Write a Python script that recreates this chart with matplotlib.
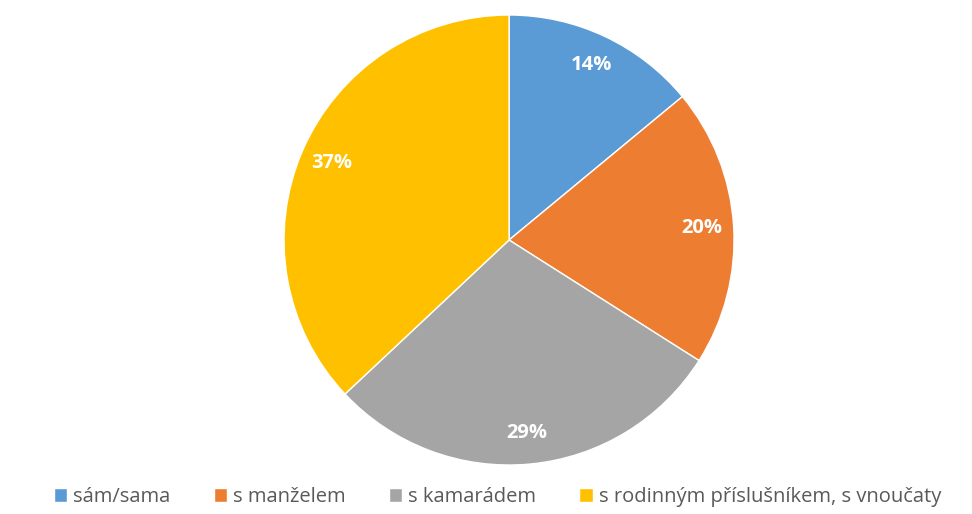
import matplotlib.pyplot as plt

labels = ['sám/sama', 's manželem', 's kamarádem', 's rodinným příslušníkem, s vnoučaty']
values = [14, 20, 29, 37]
colors = ['#5B9BD5', '#ED7D31', '#A5A5A5', '#FFC000']

plt.rcParams['font.family'] = ['Open Sans', 'DejaVu Sans']

fig = plt.figure(figsize=(9.72, 5.14), dpi=100)
ax = fig.add_axes([0.2922, 0.0953, 0.463, 0.8755])

wedges, texts, autotexts = ax.pie(
    values, colors=colors, startangle=90, counterclock=False,
    autopct='%1.0f%%', pctdistance=0.86,
    wedgeprops=dict(edgecolor='white', linewidth=1),
    textprops=dict(color='white', fontsize=14.5, fontweight='bold'))
ax.set_xlim(-1, 1)
ax.set_ylim(-1, 1)
ax.set_aspect('equal')

fig.legend(wedges, labels, loc='center', bbox_to_anchor=(0.512, 0.033),
           ncol=4, frameon=False, fontsize=14.5, labelcolor='#595959',
           handlelength=0.65, handleheight=0.65, handletextpad=0.3,
           columnspacing=2.15)

fig.savefig('out.png', dpi=100)
